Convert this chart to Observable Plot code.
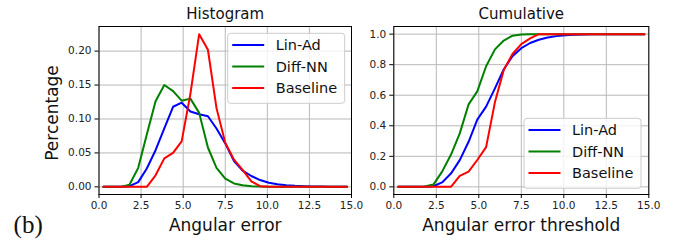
<!DOCTYPE html>
<html>
<head>
<meta charset="utf-8">
<script src="https://cdn.jsdelivr.net/npm/d3@7"></script>
<script src="https://cdn.jsdelivr.net/npm/@observablehq/plot@0.6"></script>
<style>
  html, body { margin: 0; padding: 0; background: #fff; }
  #wrap { position: relative; width: 681px; height: 241px; overflow: hidden; font-family: "DejaVu Sans", sans-serif; }
  #wrap svg { position: absolute; top: 0; }
</style>
</head>
<body>
<div id="wrap"></div>
<script>
// ---- data ----
const binCenters = [0.26, 0.78, 1.29, 1.81, 2.33, 2.84, 3.36, 3.88, 4.40, 4.91, 5.43, 5.95, 6.47, 6.98, 7.50,
                    8.02, 8.53, 9.05, 9.57, 10.09, 10.60, 11.12, 11.64, 12.16, 12.67, 13.19, 13.71, 14.22, 14.74];
const seriesNames = ["Lin-Ad", "Diff-NN", "Baseline"];
const seriesColors = ["#0000ff", "#008000", "#ff0000"];

const linAdHist    = [0, 0, 0, 0.001, 0.007, 0.027, 0.054, 0.086, 0.118, 0.124, 0.111, 0.107, 0.104, 0.086, 0.064,
                      0.038, 0.024, 0.016, 0.010, 0.006, 0.004, 0.0025, 0.0015, 0.001, 0.0006, 0.0004, 0.0002, 0.0001, 0];
const diffNNHist   = [0, 0, 0, 0.003, 0.028, 0.077, 0.126, 0.150, 0.141, 0.127, 0.130, 0.109, 0.058, 0.028, 0.012,
                      0.005, 0.0025, 0.001, 0.0005, 0, 0, 0, 0, 0, 0, 0, 0, 0, 0];
const baselineHist = [0, 0, 0, 0, 0, 0, 0.017, 0.042, 0.050, 0.067, 0.137, 0.225, 0.202, 0.116, 0.065,
                      0.040, 0.025, 0.008, 0.001, 0, 0, 0, 0, 0, 0, 0, 0, 0, 0];

const linAdCum     = [0, 0, 0, 0, 0.004, 0.029, 0.087, 0.175, 0.295, 0.44, 0.525, 0.645, 0.77, 0.855, 0.908,
                      0.942, 0.963, 0.978, 0.987, 0.993, 0.996, 0.998, 0.999, 1, 1, 1, 1, 1, 1];
const diffNNCum    = [0, 0, 0, 0.003, 0.015, 0.10, 0.21, 0.35, 0.54, 0.625, 0.79, 0.90, 0.958, 0.99, 0.997,
                      1, 1, 1, 1, 1, 1, 1, 1, 1, 1, 1, 1, 1, 1];
const baselineCum  = [0, 0, 0, 0, 0, 0, 0, 0.072, 0.10, 0.176, 0.26, 0.555, 0.765, 0.87, 0.935,
                      0.972, 1, 1, 1, 1, 1, 1, 1, 1, 1, 1, 1, 1, 1];

const xTicks = [0, 2.5, 5, 7.5, 10, 12.5, 15];
const histYTicks = [0, 0.05, 0.10, 0.15, 0.20];
const cumYTicks = [0, 0.2, 0.4, 0.6, 0.8, 1.0];

// ---- helpers ----
function toRows(arrays) {
  return arrays.flatMap((vals, s) => vals.map((v, i) => ({x: binCenters[i], y: v, name: seriesNames[s]})));
}

function addLegend(svg, x0, y0) {
  const g = d3.select(svg).append("g").attr("text-anchor", "start");
  g.append("rect").attr("x", x0).attr("y", y0).attr("width", 117).attr("height", 70)
    .attr("rx", 3).attr("fill", "white").attr("fill-opacity", 0.8)
    .attr("stroke", "#cccccc").attr("stroke-width", 1);
  seriesNames.forEach((n, i) => {
    const yy = y0 + 11.8 + i * 21.4;
    g.append("line").attr("x1", x0 + 4.5).attr("x2", x0 + 36.5).attr("y1", yy).attr("y2", yy)
      .attr("stroke", seriesColors[i]).attr("stroke-width", 2);
    g.append("text").attr("x", x0 + 48).attr("y", yy).attr("dy", "0.36em")
      .attr("text-anchor", "start")
      .attr("font-family", "DejaVu Sans").attr("font-size", 14.5).attr("fill", "#111").text(n);
  });
}

function makeChart({data, width, ml, mr, yDomain, yTicks, yFormat, title, xLabel, yLabel, tag}) {
  const marks = [
    Plot.gridX(xTicks, {stroke: "#b8b8b8", strokeOpacity: 1, strokeWidth: 1}),
    Plot.gridY(yTicks, {stroke: "#b8b8b8", strokeOpacity: 1, strokeWidth: 1}),
    Plot.line(data, {x: "x", y: "y", z: "name", stroke: "name", strokeWidth: 2, strokeLinejoin: "round"}),
    Plot.frame({stroke: "black", strokeWidth: 1}),
    Plot.axisX(xTicks, {tickFormat: d3.format(".1f"), tickSize: 4, tickPadding: 3.5, label: null, fontSize: 10.5, fill: "#222"}),
    Plot.axisY(yTicks, {tickFormat: d3.format(yFormat), tickSize: 4, tickPadding: 3.5, label: null, fontSize: 10.5, fill: "#222"}),
    Plot.text([title], {text: d => d, frameAnchor: "top", textAnchor: "middle", lineAnchor: "middle", dy: -12, fontSize: 15, fill: "#111"}),
    Plot.text([xLabel], {text: d => d, frameAnchor: "bottom", textAnchor: "middle", lineAnchor: "middle", dy: 30.6, fontSize: 17, fill: "#111"})
  ];
  if (yLabel) {
    marks.push(Plot.text([yLabel], {text: d => d, frameAnchor: "left", textAnchor: "middle", lineAnchor: "middle", rotate: -90, dx: -46.5, dy: 2.5, fontSize: 17, fill: "#111"}));
  }
  if (tag) {
    marks.push(Plot.text([tag], {text: d => d, frameAnchor: "bottom-left", textAnchor: "middle", lineAnchor: "middle", dx: 27.7 - ml, dy: 30.7, fontSize: 25, fontFamily: "Liberation Serif", fill: "#111"}));
  }
  return Plot.plot({
    width, height: 241,
    marginLeft: ml, marginRight: mr, marginTop: 26, marginBottom: 47,
    x: {domain: [0, 15]},
    y: {domain: yDomain},
    color: {domain: seriesNames, range: seriesColors},
    style: {fontFamily: "DejaVu Sans", fontSize: "10.5px", background: "transparent", overflow: "visible"},
    marks
  });
}

const wrap = document.getElementById("wrap");

const left = makeChart({
  data: toRows([linAdHist, diffNNHist, baselineHist]),
  width: 360, ml: 98.5, mr: 9,
  yDomain: [-0.01125, 0.23625], yTicks: histYTicks, yFormat: ".2f",
  title: "Histogram", xLabel: "Angular error", yLabel: "Percentage", tag: "(b)"
});
left.style.left = "0px";
wrap.appendChild(left);
addLegend(left, 227.7, 33.3);

const right = makeChart({
  data: toRows([linAdCum, diffNNCum, baselineCum]),
  width: 321, ml: 33.3, mr: 32.7,
  yDomain: [-0.05, 1.05], yTicks: cumYTicks, yFormat: ".1f",
  title: "Cumulative", xLabel: "Angular error threshold"
});
right.style.left = "360px";
wrap.appendChild(right);
addLegend(right, 164, 118.3);
</script>
</body>
</html>
